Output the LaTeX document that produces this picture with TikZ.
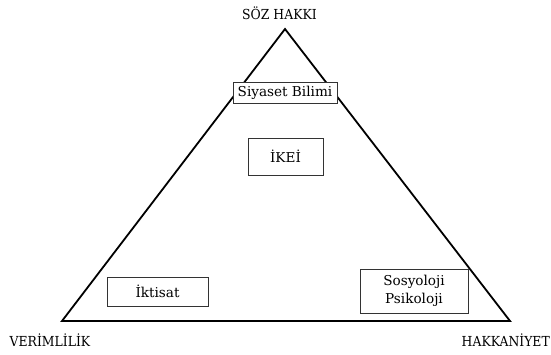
\documentclass[tikz,border=0pt]{standalone}
\usepackage{fontspec}
\setmainfont{DejaVu Serif}
\newfontfamily\condfont{DejaVu Serif Condensed}
\begin{document}
\begin{tikzpicture}[x=1pt,y=1pt,
  lbl/.style={font=\condfont\fontsize{13.8}{17}\selectfont, inner sep=0pt},
  disc/.style={draw=black!80, line width=0.9pt, fill=white, font=\fontsize{13.6}{17.5}\selectfont, inner sep=0pt, align=center},
  tri/.style={line width=1.8pt, line join=miter}]
\useasboundingbox (0,0) rectangle (551,354);
\coordinate (top) at (285,325);
\coordinate (bl) at (62,33);
\coordinate (br) at (510,33);
\draw[tri] (bl) -- (top) -- (br) -- cycle;
\node[disc, minimum width=104pt, minimum height=21pt] (siy) at (285,261.5) {Siyaset Bilimi};
\node[disc, minimum width=75pt, minimum height=37pt] (ikei) at (285.5,197.5) {İKEİ};
\node[disc, minimum width=101pt, minimum height=29pt] (ikt) at (157.5,62.5) {İktisat};
\node[disc, minimum width=108pt, minimum height=44pt] (sos) at (414,63) {Sosyoloji\\Psikoloji};
\node[lbl] (soz) at (279.5,341) {SÖZ HAKKI};
\node[lbl] (ver) at (50,14) {VERİMLİLİK};
\node[lbl, anchor=east] (hak) at (550,14) {HAKKANİYET};
\end{tikzpicture}
\end{document}
